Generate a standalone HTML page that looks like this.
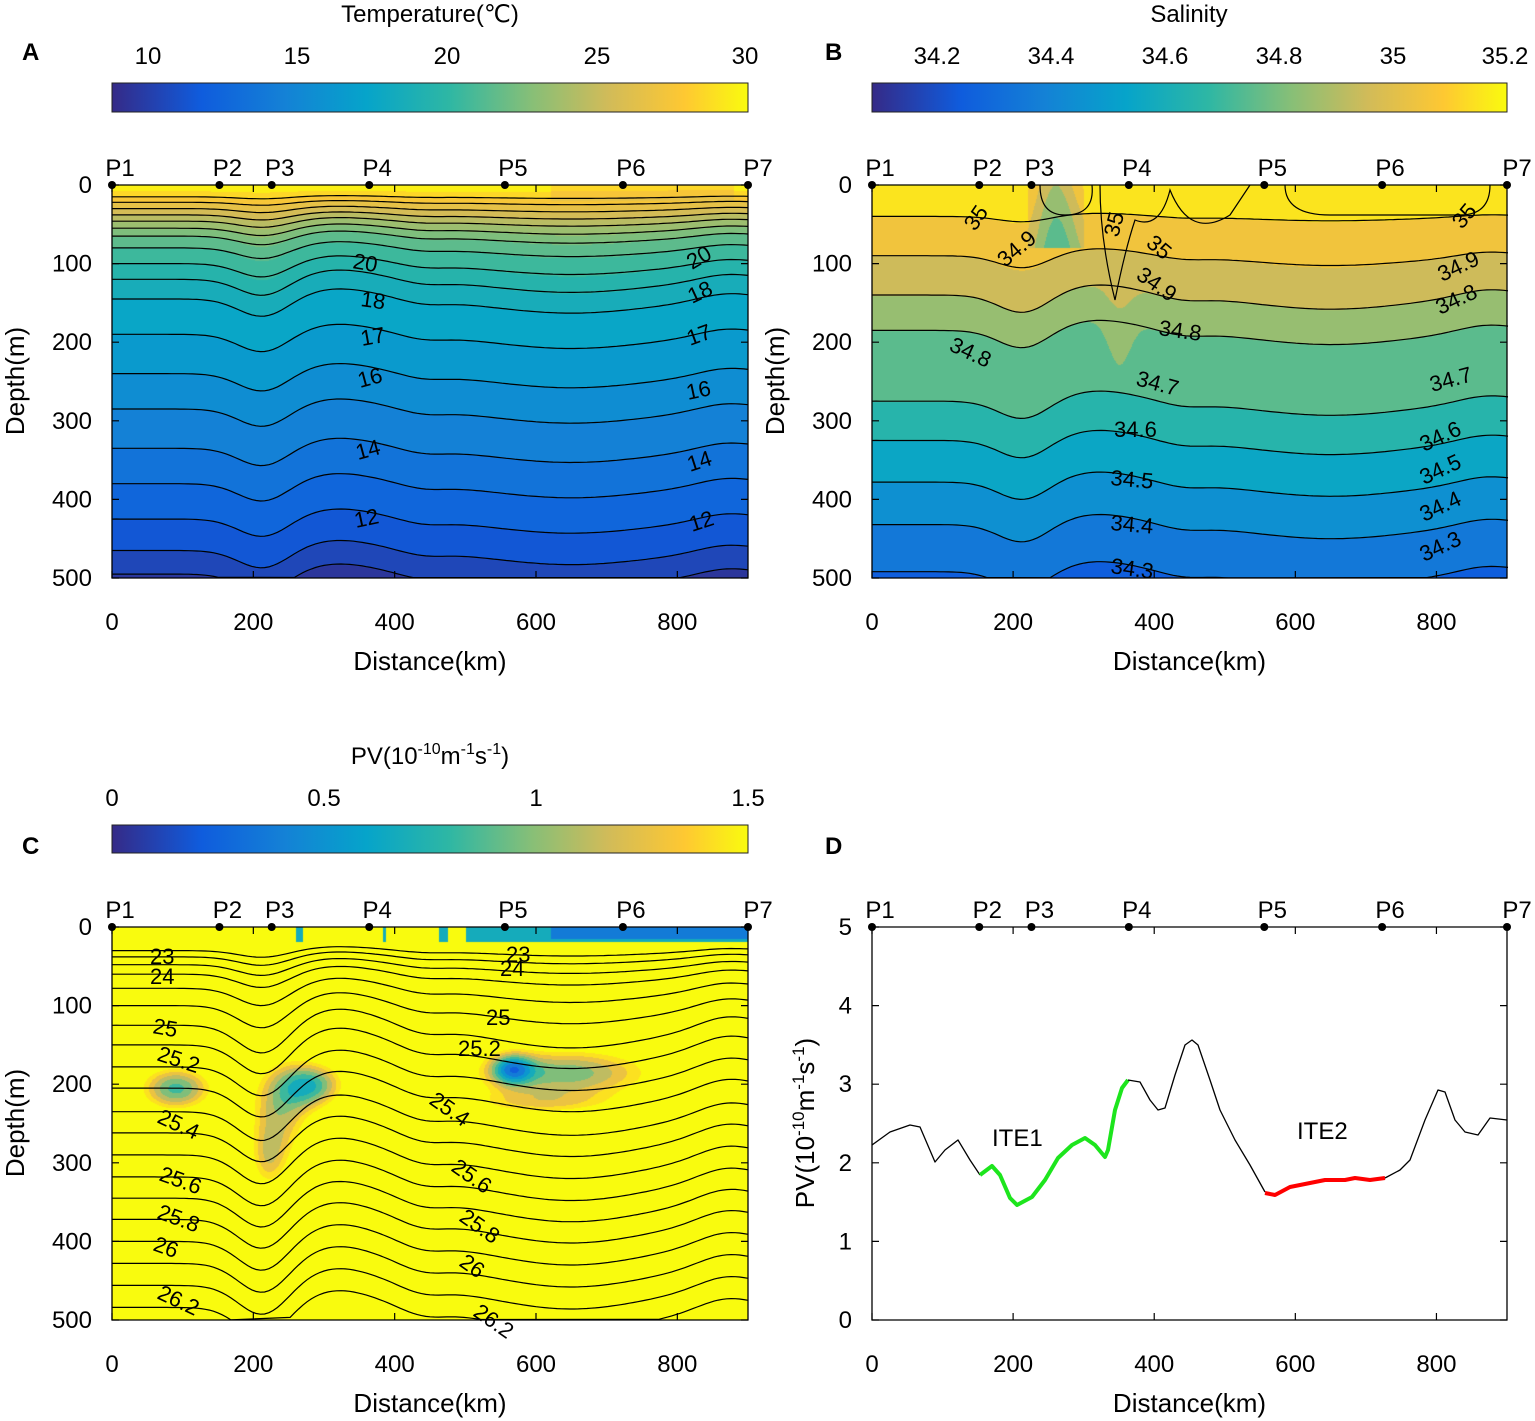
<!DOCTYPE html>
<html><head><meta charset="utf-8">
<style>
body{margin:0;background:#fff;width:1535px;height:1421px;position:relative;overflow:hidden;font-family:"Liberation Sans",Arial,sans-serif}
canvas{position:absolute}
svg{position:absolute;left:0;top:0}
</style></head><body>
<canvas id="cA" width="636" height="393" style="left:112px;top:185px"></canvas>
<canvas id="cB" width="635" height="393" style="left:872px;top:185px"></canvas>
<canvas id="cC" width="636" height="393" style="left:112px;top:927px"></canvas>
<svg id="s" width="1535" height="1421" font-family="Liberation Sans, Arial, sans-serif" font-size="24" fill="#000">
<defs>
<linearGradient id="par" x1="0" x2="1" y1="0" y2="0">
<stop offset="0" stop-color="#352a87"/><stop offset="0.14" stop-color="#0f5cdd"/><stop offset="0.27" stop-color="#1481d6"/><stop offset="0.4" stop-color="#06a4ca"/><stop offset="0.53" stop-color="#2eb7a4"/><stop offset="0.66" stop-color="#87bf77"/><stop offset="0.78" stop-color="#d1bb59"/><stop offset="0.9" stop-color="#fec832"/><stop offset="1" stop-color="#f9fb0e"/>
</linearGradient>
</defs>
<g id="lines" fill="none" stroke="#000" stroke-width="1.2"></g>
<rect x="112" y="83" width="636" height="29" fill="url(#par)" stroke="#222"/>
<rect x="872" y="83" width="635" height="29" fill="url(#par)" stroke="#222"/>
<rect x="112" y="825" width="636" height="28" fill="url(#par)" stroke="#222"/>
<g font-size="24" text-anchor="middle">
<text x="430" y="22">Temperature(℃)</text>
<text x="148" y="64">10</text><text x="297" y="64">15</text><text x="447" y="64">20</text><text x="597" y="64">25</text><text x="745" y="64">30</text>
<text x="1189" y="22">Salinity</text>
<text x="937" y="64">34.2</text><text x="1051" y="64">34.4</text><text x="1165" y="64">34.6</text><text x="1279" y="64">34.8</text><text x="1393" y="64">35</text><text x="1505" y="64">35.2</text>
<text x="430" y="764">PV(10<tspan dy="-10" font-size="16">-10</tspan><tspan dy="10">m</tspan><tspan dy="-10" font-size="16">-1</tspan><tspan dy="10">s</tspan><tspan dy="-10" font-size="16">-1</tspan><tspan dy="10">)</tspan></text>
<text x="112" y="806">0</text><text x="324" y="806">0.5</text><text x="536" y="806">1</text><text x="748" y="806">1.5</text>
</g>
<g font-size="24" font-weight="bold">
<text x="22" y="60">A</text><text x="825" y="60">B</text><text x="22" y="854">C</text><text x="825" y="854">D</text>
</g>
<g id="axes"></g>
<g font-size="22">
<text x="352" y="268" transform="rotate(10 352 268)">20</text>
<text x="360" y="306" transform="rotate(8 360 306)">18</text>
<text x="362" y="346" transform="rotate(-10 362 346)">17</text>
<text x="360" y="388" transform="rotate(-15 360 388)">16</text>
<text x="358" y="460" transform="rotate(-15 358 460)">14</text>
<text x="356" y="528" transform="rotate(-12 356 528)">12</text>
<text x="692" y="270" transform="rotate(-30 692 270)">20</text>
<text x="692" y="304" transform="rotate(-25 692 304)">18</text>
<text x="690" y="346" transform="rotate(-20 690 346)">17</text>
<text x="688" y="400" transform="rotate(-12 688 400)">16</text>
<text x="690" y="472" transform="rotate(-18 690 472)">14</text>
<text x="692" y="532" transform="rotate(-18 692 532)">12</text>
<text x="975" y="232" transform="rotate(-55 975 232)">35</text>
<text x="1005" y="268" transform="rotate(-40 1005 268)">34.9</text>
<text x="1118" y="238" transform="rotate(-75 1118 238)">35</text>
<text x="1145" y="245" transform="rotate(40 1145 245)">35</text>
<text x="1135" y="278" transform="rotate(35 1135 278)">34.9</text>
<text x="1158" y="335" transform="rotate(8 1158 335)">34.8</text>
<text x="948" y="350" transform="rotate(25 948 350)">34.8</text>
<text x="1135" y="385" transform="rotate(15 1135 385)">34.7</text>
<text x="1114" y="437">34.6</text>
<text x="1110" y="485" transform="rotate(5 1110 485)">34.5</text>
<text x="1110" y="530" transform="rotate(5 1110 530)">34.4</text>
<text x="1110" y="573" transform="rotate(8 1110 573)">34.3</text>
<text x="1462" y="230" transform="rotate(-50 1462 230)">35</text>
<text x="1442" y="282" transform="rotate(-25 1442 282)">34.9</text>
<text x="1440" y="315" transform="rotate(-25 1440 315)">34.8</text>
<text x="1432" y="392" transform="rotate(-15 1432 392)">34.7</text>
<text x="1424" y="452" transform="rotate(-25 1424 452)">34.6</text>
<text x="1424" y="485" transform="rotate(-25 1424 485)">34.5</text>
<text x="1424" y="522" transform="rotate(-25 1424 522)">34.4</text>
<text x="1424" y="562" transform="rotate(-25 1424 562)">34.3</text>
<text x="150" y="964">23</text><text x="150" y="984">24</text>
<text x="152" y="1033" transform="rotate(10 152 1033)">25</text>
<text x="156" y="1060" transform="rotate(18 156 1060)">25.2</text>
<text x="156" y="1122" transform="rotate(25 156 1122)">25.4</text>
<text x="158" y="1180" transform="rotate(20 158 1180)">25.6</text>
<text x="156" y="1218" transform="rotate(20 156 1218)">25.8</text>
<text x="152" y="1250" transform="rotate(20 152 1250)">26</text>
<text x="156" y="1298" transform="rotate(25 156 1298)">26.2</text>
<text x="506" y="962">23</text><text x="500" y="976">24</text>
<text x="486" y="1025">25</text>
<text x="458" y="1056">25.2</text>
<text x="428" y="1103" transform="rotate(35 428 1103)">25.4</text>
<text x="450" y="1170" transform="rotate(35 450 1170)">25.6</text>
<text x="458" y="1220" transform="rotate(35 458 1220)">25.8</text>
<text x="458" y="1265" transform="rotate(35 458 1265)">26</text>
<text x="472" y="1315" transform="rotate(35 472 1315)">26.2</text>
</g>
<g fill="none" stroke-linejoin="round">
<polyline stroke="#000" stroke-width="1.3" points="872,1145 890,1132 910,1125 920,1127 935,1162 945,1150 958,1140 970,1160 980,1175"/>
<polyline stroke="#1de51d" stroke-width="4" points="980,1175 992,1166 1000,1175 1010,1198 1017,1205 1032,1197 1045,1180 1058,1158 1072,1145 1085,1138 1095,1145 1105,1157 1108,1150 1115,1110 1122,1088 1128,1080"/>
<polyline stroke="#000" stroke-width="1.3" points="1128,1080 1140,1082 1150,1100 1158,1110 1165,1108 1175,1075 1185,1045 1192,1040 1198,1045 1210,1080 1220,1110 1235,1140 1250,1165 1265,1192"/>
<polyline stroke="#f00" stroke-width="4" points="1265,1193 1275,1195 1290,1187 1310,1183 1325,1180 1345,1180 1355,1178 1370,1180 1385,1178"/>
<polyline stroke="#000" stroke-width="1.3" points="1385,1178 1400,1170 1410,1160 1425,1120 1438,1090 1445,1092 1455,1120 1465,1132 1478,1135 1490,1118 1507,1120"/>
</g>
<text x="992" y="1146">ITE1</text><text x="1297" y="1139">ITE2</text>
</svg>
<script>
const P=[[0,[53,42,135]],[0.14,[15,92,221]],[0.27,[20,129,214]],[0.4,[6,164,202]],[0.53,[46,183,164]],[0.66,[135,191,119]],[0.78,[209,187,89]],[0.9,[254,200,50]],[1,[249,251,14]]];
function par(t){t=Math.max(0,Math.min(1,t));for(let i=1;i<P.length;i++){if(t<=P[i][0]){const a=P[i-1],b=P[i],f=(t-a[0])/(b[0]-a[0]);return a[1].map((v,j)=>Math.round(v+(b[1][j]-v)*f));}}return P[8][1];}
const g=(k,c,s)=>Math.exp(-((k-c)*(k-c))/(2*s*s));
function shape(k){return 40*g(k,215,35)-22*g(k,320,55)+8*g(k,440,30)+30*g(k,650,110)-15*g(k,870,40);}
function disp(k,d,sc){return sc*shape(k)*Math.min(1,d/130);}
function interp(L,de){if(de<=L[0][0])return L[0][1];for(let i=1;i<L.length;i++){if(de<=L[i][0]){const f=(de-L[i-1][0])/(L[i][0]-L[i-1][0]);return L[i-1][1]+(L[i][1]-L[i-1][1])*f;}}return L[L.length-1][1];}
function field(id,L,sc,vmin,vmax,step,extra){const c=document.getElementById(id),x=c.getContext('2d'),W=c.width,H=c.height,im=x.createImageData(W,H);
for(let py=0;py<H;py++){const d=py/0.786;for(let px=0;px<W;px++){const k=px/W*900;let de=d-disp(k,d,sc);let v=interp(L,de);if(extra)v+=extra(k,d);let q=Math.floor(v/step)*step+step/2;const col=par((q-vmin)/(vmax-vmin));const o=(py*W+px)*4;im.data[o]=col[0];im.data[o+1]=col[1];im.data[o+2]=col[2];im.data[o+3]=255;}}x.putImageData(im,0,0);}
const LA=[[0,30],[15,28],[22,27],[30,26],[38,25],[46,24],[55,23],[65,22],[80,21],[100,20],[120,19],[145,18],[190,17],[240,16],[285,15],[335,14],[380,13],[425,12],[465,11],[495,10],[530,9.5]];
field('cA',LA,0.6,8.8,30,1,(k,d)=>d<20&&k>620&&k<880?-1.2:0);
const LB=[[0,35.2],[40,35.1],[90,35.0],[140,34.9],[185,34.8],[275,34.7],[325,34.6],[378,34.5],[432,34.4],[492,34.3],[530,34.2]];
field('cB',LB,0.6,34.086,35.2,0.1,(k,d)=>(d<80&&k>220&&k<300?-0.3*g(k,260,25):0)+(d<260&&d>120?0.06*g(k,350,15):0));
(function(){const c=document.getElementById('cC'),x=c.getContext('2d'),W=636,H=393,im=x.createImageData(W,H);
const B=[[90,205,40,22,1.35],[235,235,35,50,1.0],[285,200,35,22,1.2],[220,300,20,30,0.6],[640,185,100,25,1.25],[565,180,22,15,1.0],[600,225,90,12,0.6]];
for(let py=0;py<H;py++){const d=py/0.786;for(let px=0;px<W;px++){const k=px/W*900;let v=2.2;for(const b of B)v-=b[4]*Math.exp(-((k-b[0])**2/(2*b[2]*b[2])+(d-b[1])**2/(2*b[3]*b[3])));
if(d<18&&k>260){const n=Math.sin(k*0.15)+Math.sin(k*0.07+1);if(k>500||n>1.2)v=k>620&&d<14?0.3:0.6;}
let q=Math.floor(v/0.15)*0.15+0.075;const col=par(q/1.5);const o=(py*W+px)*4;im.data[o]=col[0];im.data[o+1]=col[1];im.data[o+2]=col[2];im.data[o+3]=255;}}x.putImageData(im,0,0);})();
const NS="http://www.w3.org/2000/svg";const lg=document.getElementById('lines');
function path(d,attrs){const p=document.createElementNS(NS,'path');p.setAttribute('d',d);for(const a in attrs)p.setAttribute(a,attrs[a]);return p;}
function contours(x0,y0,depths,sc){for(const L of depths){let s='';for(let k=0;k<=900;k+=6){let y=L+disp(k,L,sc);if(y>500||y<0)continue;s+=(s?'L':'M')+(x0+k*0.7067).toFixed(1)+','+(y0+y*0.786).toFixed(1);}if(s)lg.appendChild(path(s,{}));}}
contours(112,185,[15,22,30,38,46,55,65,80,100,120,145,190,240,285,335,380,425,465,495],0.6);
contours(872,185,[40,90,140,185,275,325,378,432,492],0.6);
contours(112,927,[30,38,48,60,78,100,125,150,178,205,235,262,290,318,345,372,400,428,456,484],1.0);
lg.appendChild(path('M1040,185 Q1040,215 1065,215 Q1095,215 1092,185',{}));
lg.appendChild(path('M1100,185 Q1100,240 1115,300 Q1125,250 1135,220 Q1160,230 1170,190 Q1190,240 1230,215 L1250,185',{}));
lg.appendChild(path('M1285,185 Q1285,215 1330,215 L1460,215 Q1490,215 1490,185',{}));
const ax=document.getElementById('axes');
function axis(x0,y0,W,H,yt){ax.appendChild(path(`M${x0},${y0}H${x0+W}V${y0+H}H${x0}Z`,{fill:'none',stroke:'#000','stroke-width':1.3}));
let s='';
for(let i=0;i<=5;i++){const y=y0+H*i/5;s+=`M${x0},${y}h7M${x0+W},${y}h-7`;const t=document.createElementNS(NS,'text');t.setAttribute('x',x0-20);t.setAttribute('y',y+8);t.setAttribute('text-anchor','end');t.textContent=yt[i];ax.appendChild(t);}
for(let i=0;i<=4;i++){const x=x0+i*200*W/900;s+=`M${x},${y0+H}v-7M${x},${y0}v7`;const t=document.createElementNS(NS,'text');t.setAttribute('x',x);t.setAttribute('y',y0+H+52);t.setAttribute('text-anchor','middle');t.textContent=i*200;ax.appendChild(t);}
ax.appendChild(path(s,{stroke:'#000','stroke-width':1.2}));
const t=document.createElementNS(NS,'text');t.setAttribute('x',x0+W/2);t.setAttribute('y',y0+H+92);t.setAttribute('text-anchor','middle');t.setAttribute('font-size','26');t.textContent='Distance(km)';ax.appendChild(t);
const px=[0,152,226,364,556,723,900];px.forEach((k,i)=>{const x=x0+k*W/900;const c=document.createElementNS(NS,'circle');c.setAttribute('cx',x);c.setAttribute('cy',y0);c.setAttribute('r',4);ax.appendChild(c);const tt=document.createElementNS(NS,'text');tt.setAttribute('x',x+(i==6?10:8));tt.setAttribute('y',y0-9);tt.setAttribute('text-anchor','middle');tt.textContent='P'+(i+1);ax.appendChild(tt);});
}
const dep=['0','100','200','300','400','500'];
axis(112,185,636,393,dep);axis(872,185,635,393,dep);axis(112,927,636,393,dep);axis(872,927,635,393,['5','4','3','2','1','0']);
</script>
<svg width="1535" height="1421" font-family="Liberation Sans, Arial, sans-serif" font-size="26" style="pointer-events:none">
<text transform="translate(24,381) rotate(-90)" text-anchor="middle">Depth(m)</text>
<text transform="translate(784,381) rotate(-90)" text-anchor="middle">Depth(m)</text>
<text transform="translate(24,1123) rotate(-90)" text-anchor="middle">Depth(m)</text>
<text transform="translate(814,1123) rotate(-90)" text-anchor="middle">PV(10<tspan dy="-10" font-size="17">-10</tspan><tspan dy="10">m</tspan><tspan dy="-10" font-size="17">-1</tspan><tspan dy="10">s</tspan><tspan dy="-10" font-size="17">-1</tspan><tspan dy="10">)</tspan></text>
</svg>
</body></html>
